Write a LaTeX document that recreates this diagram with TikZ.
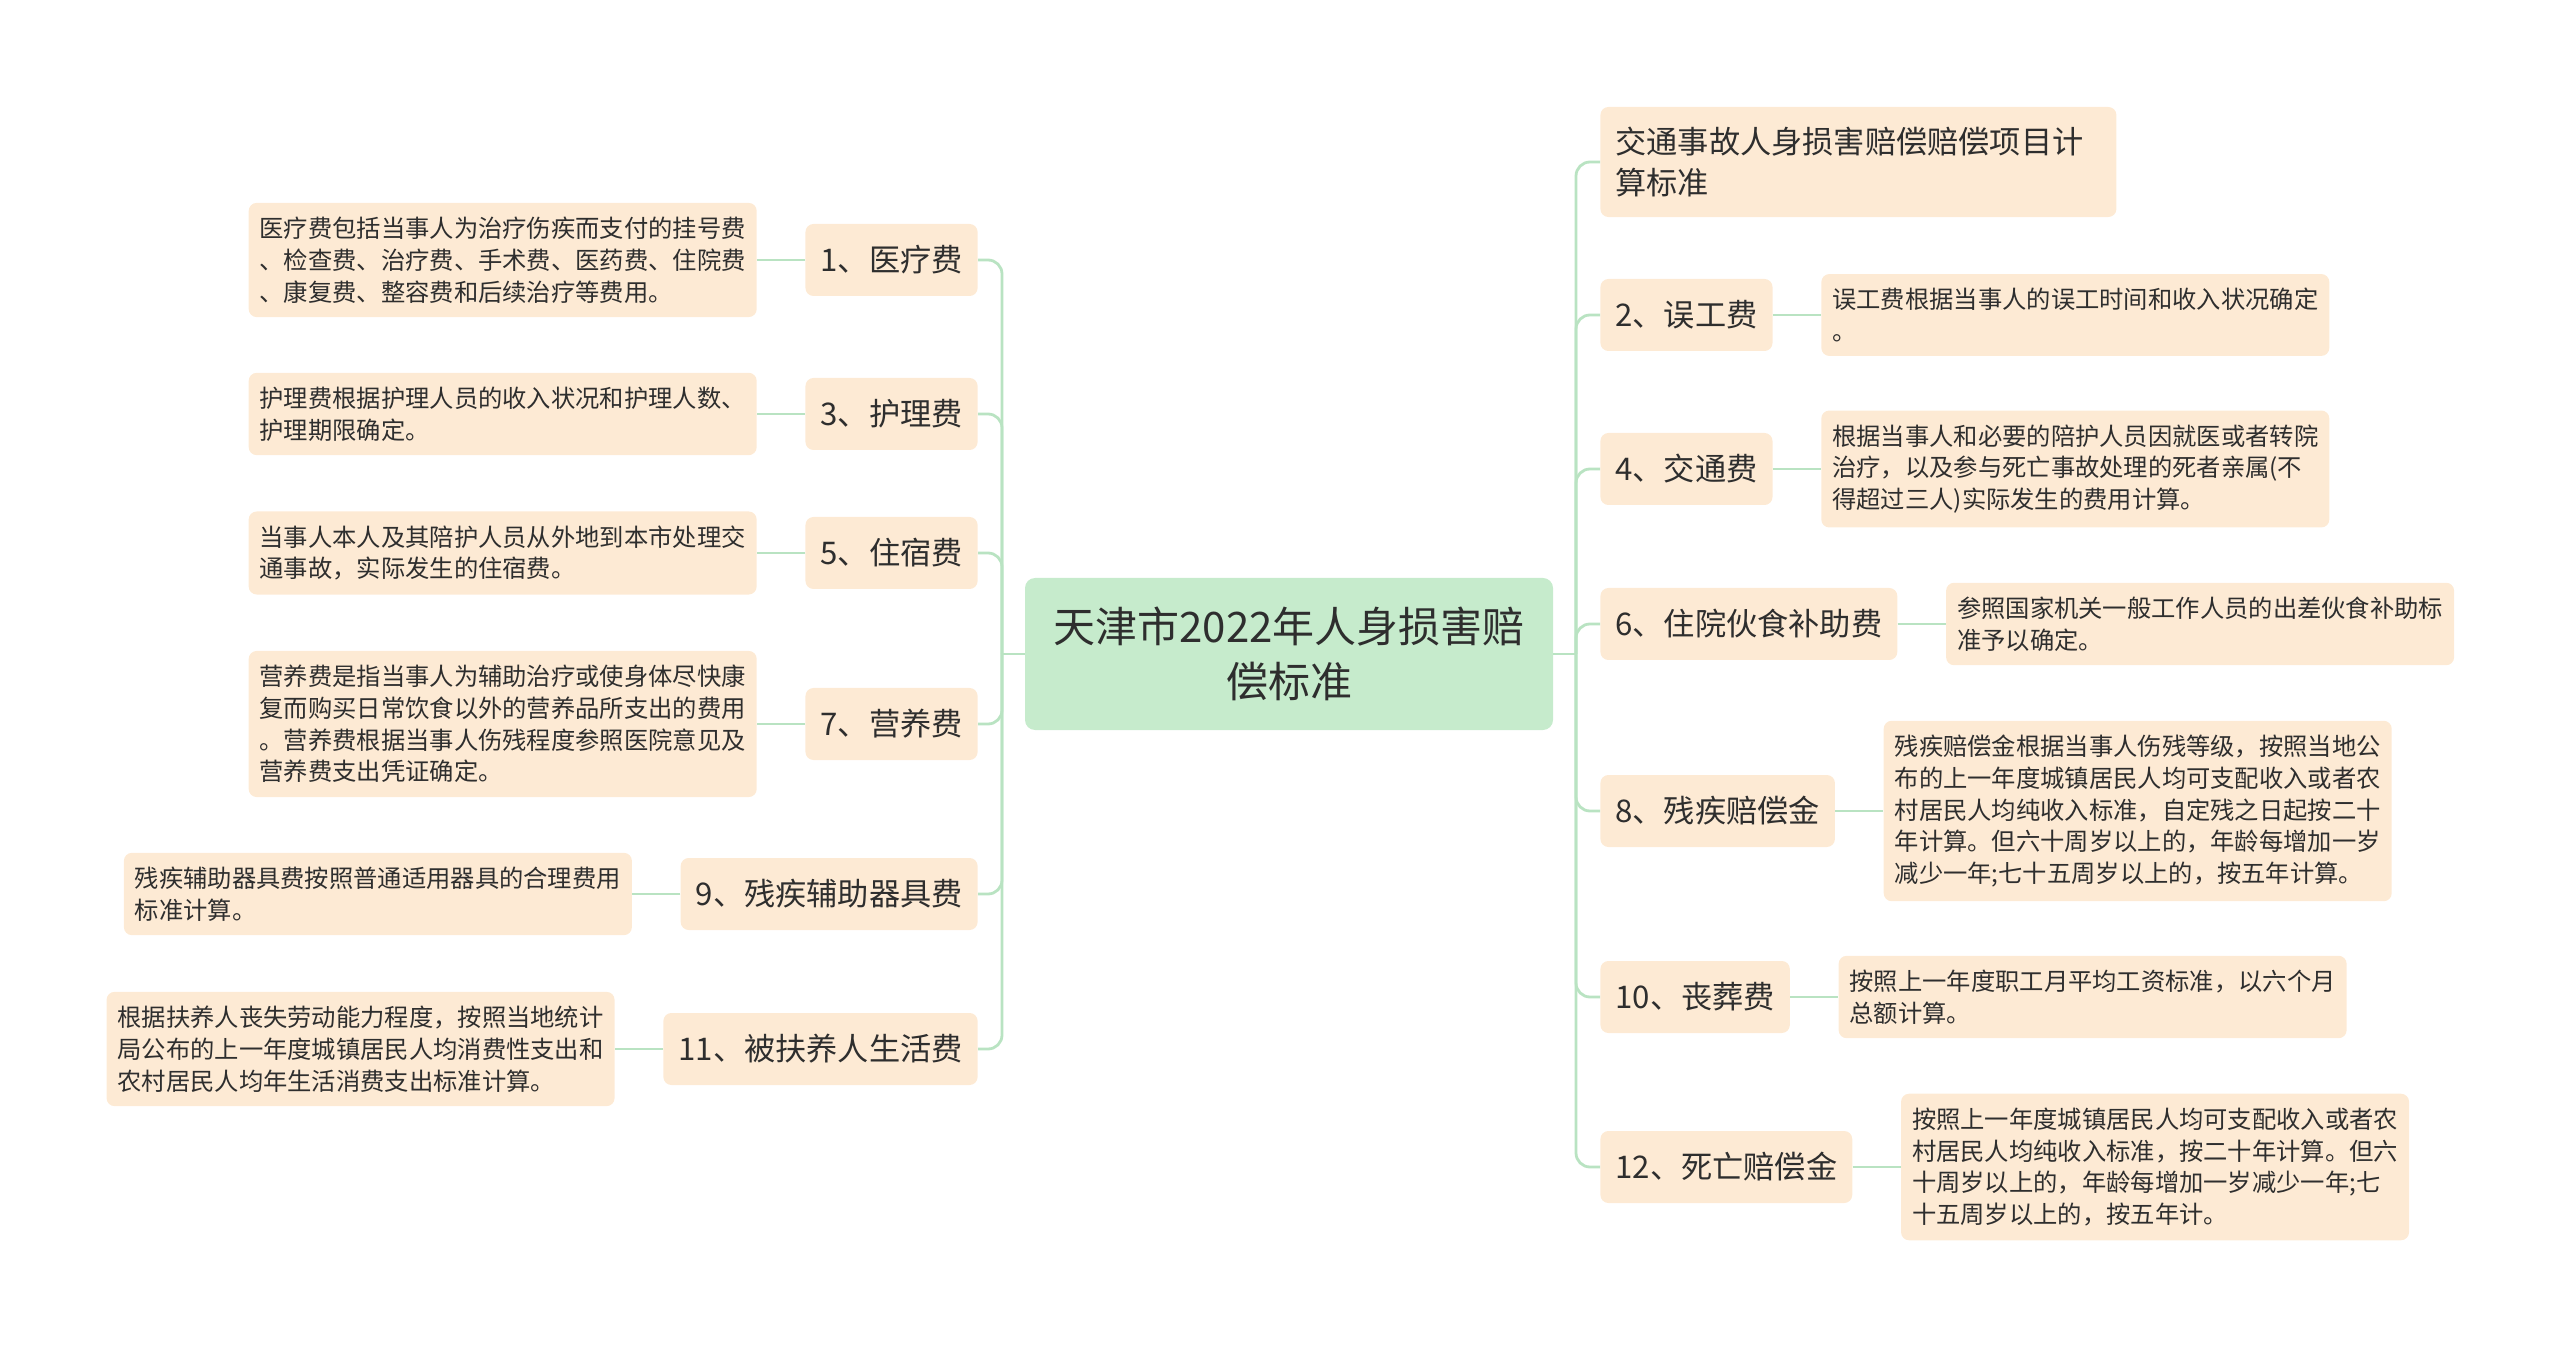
\documentclass[tikz,border=0pt]{standalone}
\usepackage{fontspec}
\setmainfont{Noto Sans CJK SC}
\usetikzlibrary{positioning}
\definecolor{boxfill}{HTML}{FDEAD4}
\definecolor{rootfill}{HTML}{C6EBCC}
\definecolor{linkgreen}{HTML}{B9E3C2}
\definecolor{txt}{HTML}{2E2E2E}

\begin{document}
\begin{tikzpicture}[x=0.5pt,y=-0.5pt,
    topic/.style={fill=boxfill,rounded corners=4pt,inner xsep=7.5pt,minimum height=36pt,text=txt,font=\fontsize{15.6pt}{20.5pt}\selectfont},
    detail/.style={fill=boxfill,rounded corners=4pt,inner xsep=5.5pt,inner ysep=7pt,text width=243pt,align=left,text=txt,font=\fontsize{12.15pt}{15.9pt}\selectfont},
    link/.style={draw=linkgreen,line width=1.4pt},
    branch/.style={link,rounded corners=7pt}]
    \useasboundingbox (0,0) rectangle (2560,1347);
    % centre
    \node[fill=rootfill,rounded corners=5pt,minimum width=264pt,minimum height=76pt,align=center,text=txt,font=\fontsize{21pt}{27.5pt}\selectfont] (root) at (1289,654) {天津市2022年人身损害赔\\偿标准};
    \coordinate (tl) at (1002,654);
    \coordinate (tr) at (1576,654);
    % left side
    \node[topic,anchor=east] (l1) at (978,260) {1、医疗费};
    \node[topic,anchor=east] (l3) at (978,414) {3、护理费};
    \node[topic,anchor=east] (l5) at (978,553) {5、住宿费};
    \node[topic,anchor=east] (l7) at (978,724) {7、营养费};
    \node[topic,anchor=east] (l9) at (978,894) {9、残疾辅助器具费};
    \node[topic,anchor=east] (l11) at (978,1049) {11、被扶养人生活费};
    \node[detail,left=24pt of l1] (d1) {医疗费包括当事人为治疗伤疾而支付的挂号费\\、检查费、治疗费、手术费、医药费、住院费\\、康复费、整容费和后续治疗等费用。};
    \node[detail,left=24pt of l3] (d3) {护理费根据护理人员的收入状况和护理人数、\\护理期限确定。};
    \node[detail,left=24pt of l5] (d5) {当事人本人及其陪护人员从外地到本市处理交\\通事故，实际发生的住宿费。};
    \node[detail,left=24pt of l7] (d7) {营养费是指当事人为辅助治疗或使身体尽快康\\复而购买日常饮食以外的营养品所支出的费用\\。营养费根据当事人伤残程度参照医院意见及\\营养费支出凭证确定。};
    \node[detail,left=24pt of l9] (d9) {残疾辅助器具费按照普通适用器具的合理费用\\标准计算。};
    \node[detail,left=24pt of l11] (d11) {根据扶养人丧失劳动能力程度，按照当地统计\\局公布的上一年度城镇居民人均消费性支出和\\农村居民人均年生活消费支出标准计算。};
    % right side
    \node[topic,anchor=west,text width=243pt,align=left,inner ysep=10pt] (r0) at (1600,162) {交通事故人身损害赔偿赔偿项目计\\算标准};
    \node[topic,anchor=west] (r2) at (1600,315) {2、误工费};
    \node[topic,anchor=west] (r4) at (1600,469) {4、交通费};
    \node[topic,anchor=west] (r6) at (1600,624) {6、住院伙食补助费};
    \node[topic,anchor=west] (r8) at (1600,811) {8、残疾赔偿金};
    \node[topic,anchor=west] (r10) at (1600,997) {10、丧葬费};
    \node[topic,anchor=west] (r12) at (1600,1167) {12、死亡赔偿金};
    \node[detail,right=24pt of r2] (e2) {误工费根据当事人的误工时间和收入状况确定\\。};
    \node[detail,right=24pt of r4] (e4) {根据当事人和必要的陪护人员因就医或者转院\\治疗，以及参与死亡事故处理的死者亲属(不\\得超过三人)实际发生的费用计算。};
    \node[detail,right=24pt of r6] (e6) {参照国家机关一般工作人员的出差伙食补助标\\准予以确定。};
    \node[detail,right=24pt of r8] (e8) {残疾赔偿金根据当事人伤残等级，按照当地公\\布的上一年度城镇居民人均可支配收入或者农\\村居民人均纯收入标准，自定残之日起按二十\\年计算。但六十周岁以上的，年龄每增加一岁\\减少一年;七十五周岁以上的，按五年计算。};
    \node[detail,right=24pt of r10] (e10) {按照上一年度职工月平均工资标准，以六个月\\总额计算。};
    \node[detail,right=24pt of r12] (e12) {按照上一年度城镇居民人均可支配收入或者农\\村居民人均纯收入标准，按二十年计算。但六\\十周岁以上的，年龄每增加一岁减少一年;七\\十五周岁以上的，按五年计。};
    % connectors
    \draw[link] (root.west) -- (tl);
    \draw[link] (root.east) -- (tr);
    \foreach \n in {l1,l3,l5,l7,l9,l11} {
        \draw[branch] (tl) |- (\n.east);
    }
    \foreach \n in {r0,r2,r4,r6,r8,r10,r12} {
        \draw[branch] (tr) |- (\n.west);
    }
    \foreach \a/\b in {l1/d1,l3/d3,l5/d5,l7/d7,l9/d9,l11/d11,r2/e2,r4/e4,r6/e6,r8/e8,r10/e10,r12/e12} {
        \draw[link] (\a) -- (\b);
    }
\end{tikzpicture}
\end{document}
